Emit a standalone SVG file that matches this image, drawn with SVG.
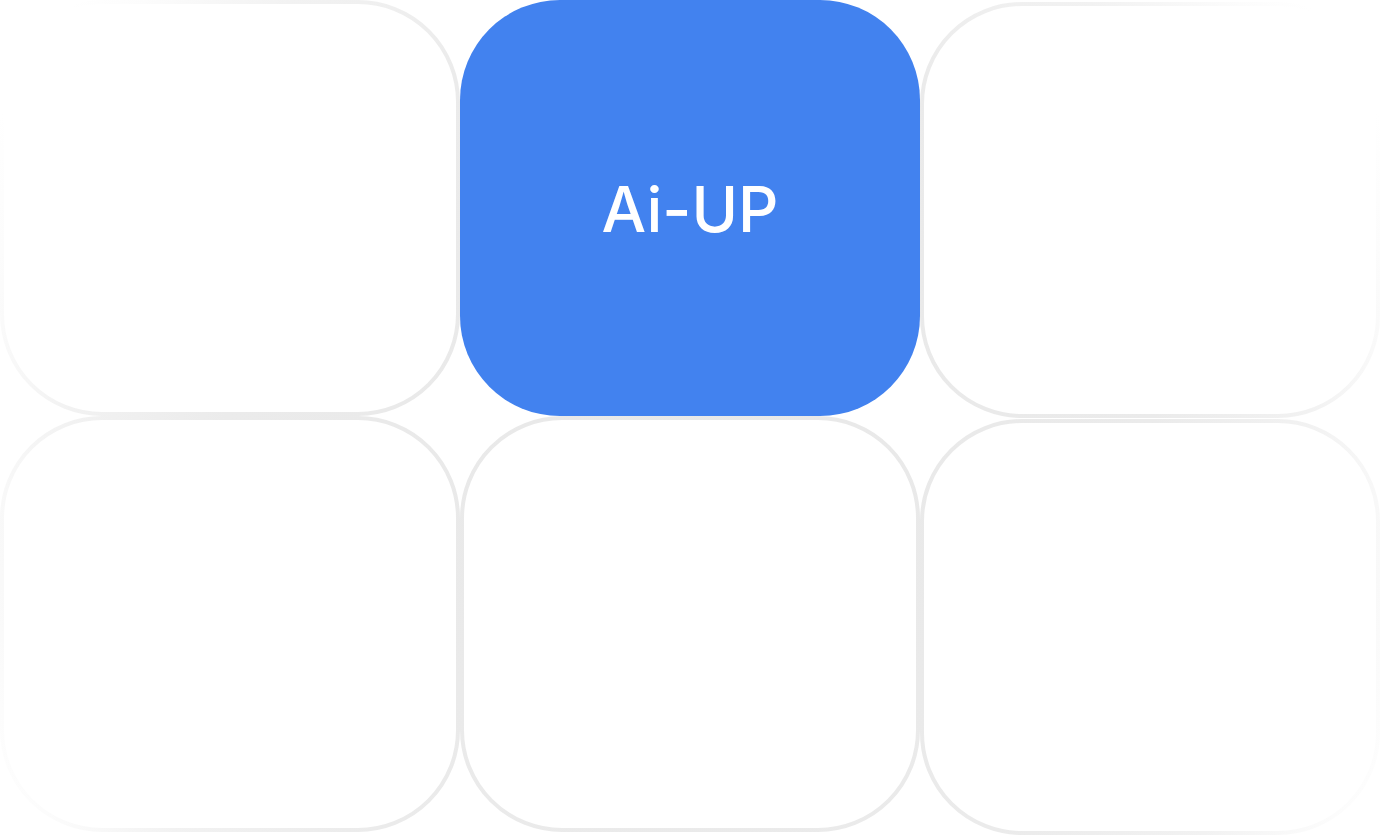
<svg xmlns="http://www.w3.org/2000/svg" width="1380" height="836" viewBox="0 0 1380 836">
  <defs>
    <radialGradient id="fade" gradientUnits="userSpaceOnUse" cx="690" cy="480" r="780">
      <stop offset="0" stop-color="#e8e8e8"/>
      <stop offset="0.6" stop-color="#ebebeb"/>
      <stop offset="0.8" stop-color="#f2f2f2"/>
      <stop offset="0.93" stop-color="#fcfcfc"/>
      <stop offset="1" stop-color="#ffffff"/>
    </radialGradient>
  </defs>
  <style>
    .card { fill: #ffffff; stroke: url(#fade); stroke-width: 4; }
    .hub { fill: #4282ef; }
    .label { font-family: Inter, "Open Sans", "Liberation Sans", sans-serif; font-size: 63px; font-weight: 500; fill: #ffffff; letter-spacing: 0px; }
  </style>
  <rect width="1380" height="836" fill="#ffffff"/>
  <g id="card-top-left"><rect class="card" x="2" y="2" width="456" height="412" rx="100" ry="100"/></g>
  <g id="card-top-right"><rect class="card" x="922" y="4" width="456" height="412" rx="100" ry="100"/></g>
  <g id="card-bottom-left"><rect class="card" x="2" y="418" width="456" height="412" rx="100" ry="100"/></g>
  <g id="card-bottom-center"><rect class="card" x="462" y="418" width="456" height="412" rx="100" ry="100"/></g>
  <g id="card-bottom-right"><rect class="card" x="922" y="421" width="456" height="412" rx="100" ry="100"/></g>
  <g id="hub-ai-up">
    <rect class="hub" x="460" y="0" width="460" height="416" rx="100" ry="100"/>
    <text class="label" x="690" y="232" text-anchor="middle">Ai-UP</text>
  </g>
  <g id="connectors"/>
</svg>
